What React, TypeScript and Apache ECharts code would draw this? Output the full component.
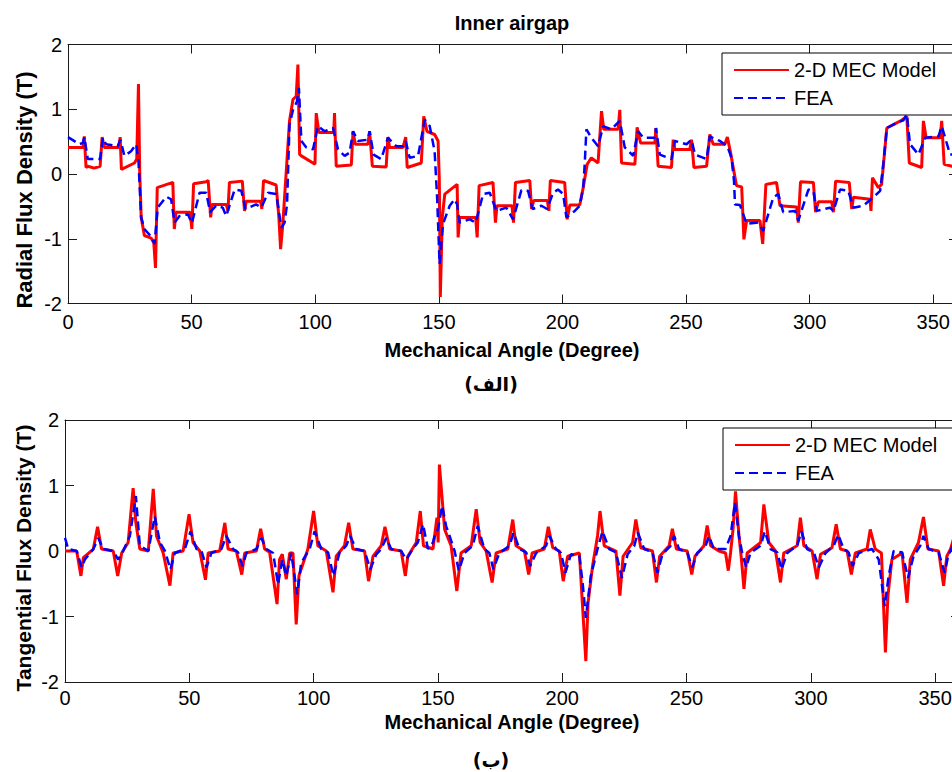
import React, { useEffect, useRef } from "react";
import * as echarts from "echarts";

const FONT = "Liberation Sans, Arial, sans-serif";

const xTicks = { min: 0, max: 360, interval: 50 };
const yTicks = { min: -2, max: 2, interval: 1 };
const seriesNames = ["2-D MEC Model", "FEA"];

// Radial flux density, 2-D MEC model: [angle (deg), B (T)]
const radialMec: number[][] = [
  [0, 0.41], [6.0, 0.41], [6.6, 0.58], [7.3, 0.1], [8.0, 0.12], [10.6, 0.09], [13.0, 0.12], [13.8, 0.57], [14.7, 0.41],
  [20.5, 0.41], [21.1, 0.57], [21.6, 0.07], [26.9, 0.17], [27.8, 0.23], [28.5, 1.39], [29.0, 0.05], [29.6, -0.67],
  [30.9, -0.95], [33.6, -0.99], [34.7, -1.06], [35.4, -1.45], [36.1, -0.21], [42.4, -0.13], [43.0, -0.85], [43.7, -0.59],
  [49.4, -0.59], [50.1, -0.85], [50.8, -0.15], [55.9, -0.12], [56.7, -0.1], [57.7, -0.67], [58.3, -0.47], [64.0, -0.47],
  [64.7, -0.57], [65.3, -0.13], [70.5, -0.11], [71.4, -0.57], [72.1, -0.42], [77.9, -0.42], [78.4, -0.54], [79.1, -0.1],
  [84.2, -0.17], [85.3, -0.67], [86.0, -1.16], [86.9, -0.77], [88.3, 0.05], [89.6, 0.82], [91.0, 1.15], [92.3, 1.2],
  [93.0, 1.69], [93.7, 0.3], [94.4, 0.28], [99.9, 0.15], [100.4, 0.94], [101.5, 0.64], [107.5, 0.64], [107.8, 0.94],
  [108.5, 0.12], [114.6, 0.14], [115.3, 0.66], [116.2, 0.46], [121.3, 0.46], [122.0, 0.66], [123.1, 0.12], [128.7, 0.11],
  [129.4, 0.57], [130.1, 0.41], [135.5, 0.41], [136.6, 0.57], [137.2, 0.1], [142.9, 0.17], [143.9, 0.89], [145.2, 0.66],
  [148.3, 0.61], [149.7, 0.51], [150.2, -0.11], [150.6, -1.9], [151.4, -0.67], [152.4, -0.31], [157.4, -0.16],
  [157.8, -0.98], [158.4, -0.67], [164.9, -0.67], [165.5, -0.98], [166.3, -0.18], [171.9, -0.13], [172.9, -0.75],
  [173.5, -0.49], [179.6, -0.49], [180.2, -0.75], [181.0, -0.13], [186.8, -0.1], [187.5, -0.54], [188.4, -0.41],
  [193.9, -0.41], [194.5, -0.57], [195.1, -0.1], [200.9, -0.13], [201.9, -0.7], [203.0, -0.48], [207.0, -0.48],
  [208.4, -0.21], [210.0, 0.15], [211.7, 0.25], [214.4, 0.17], [215.8, 0.97], [216.7, 0.69], [222.5, 0.69], [223.2, 0.99],
  [223.9, 0.17], [229.3, 0.15], [230.2, 0.72], [231.6, 0.48], [237.4, 0.48], [237.8, 0.71], [238.7, 0.12], [244.1, 0.1],
  [244.8, 0.53], [245.5, 0.38], [251.5, 0.38], [252.2, 0.53], [253.2, 0.1], [258.3, 0.12], [259.6, 0.61], [261.0, 0.46],
  [265.7, 0.46], [266.7, 0.57], [268.0, 0.33], [270.4, -0.18], [272.5, -0.2], [273.4, -1.01], [274.5, -0.72],
  [279.9, -0.72], [281.0, -1.08], [282.3, -0.16], [286.6, -0.13], [288.0, -0.49], [294.7, -0.51], [295.4, -0.75],
  [296.3, -0.12], [301.5, -0.13], [302.4, -0.59], [303.5, -0.43], [308.9, -0.43], [309.6, -0.59], [310.5, -0.11],
  [316.0, -0.13], [317.0, -0.54], [317.7, -0.36], [324.4, -0.39], [324.8, -0.57], [325.4, -0.06], [327.8, -0.21],
  [329.1, -0.16], [331.2, 0.71], [335.2, 0.79], [337.2, 0.83], [339.3, 0.89], [340.3, 0.17], [345.3, 0.1], [346.0, 0.82],
  [347.1, 0.56], [352.8, 0.56], [353.4, 0.82], [354.4, 0.15], [357.6, 0.12], [360, 0.12],
];

// Radial flux density, FEA
const radialFea: number[][] = [
  [0, 0.57], [4.6, 0.46], [6.0, 0.48], [6.6, 0.57], [8.0, 0.23], [13.0, 0.23], [14.1, 0.56], [15.4, 0.46], [20.1, 0.43],
  [21.2, 0.53], [22.8, 0.28], [25.5, 0.35], [27.6, 0.46], [28.5, 0.2], [29.6, -0.67], [30.9, -0.85], [33.0, -0.94],
  [35.0, -1.08], [36.3, -0.52], [39.7, -0.35], [41.7, -0.39], [43.1, -0.75], [45.1, -0.65], [48.5, -0.62], [50.1, -0.76],
  [53.2, -0.29], [55.9, -0.29], [57.5, -0.59], [59.9, -0.49], [62.6, -0.52], [64.0, -0.65], [67.4, -0.24], [70.1, -0.26],
  [71.8, -0.54], [76.1, -0.47], [78.2, -0.52], [80.9, -0.29], [84.2, -0.31], [86.3, -0.83], [87.6, -0.75], [88.6, -0.47],
  [89.6, 0.76], [91.0, 0.99], [92.6, 1.12], [93.4, 1.33], [94.4, 0.51], [96.4, 0.41], [99.1, 0.38], [101.1, 0.74],
  [103.8, 0.66], [107.2, 0.71], [109.2, 0.38], [111.9, 0.28], [113.9, 0.33], [115.3, 0.66], [117.3, 0.51], [121.3, 0.53],
  [122.0, 0.66], [123.6, 0.3], [126.7, 0.23], [129.4, 0.56], [132.8, 0.43], [135.5, 0.43], [136.6, 0.51], [138.2, 0.25],
  [141.6, 0.28], [144.3, 0.84], [146.3, 0.74], [148.3, 0.35], [149.3, -0.36], [150.3, -1.39], [151.7, -0.77],
  [154.4, -0.49], [156.4, -0.39], [157.4, -0.47], [158.4, -0.75], [162.5, -0.7], [164.9, -0.75], [167.9, -0.31],
  [170.6, -0.29], [173.3, -0.57], [177.3, -0.52], [180.0, -0.7], [183.4, -0.25], [186.1, -0.26], [187.9, -0.54],
  [191.5, -0.49], [193.8, -0.54], [196.2, -0.29], [198.2, -0.24], [200.3, -0.31], [201.6, -0.67], [205.0, -0.57],
  [207.0, -0.49], [208.4, -0.21], [209.0, 0.15], [209.7, 0.69], [211.7, 0.56], [214.4, 0.43], [216.5, 0.74], [219.8, 0.69],
  [223.2, 0.82], [225.2, 0.41], [228.6, 0.28], [230.6, 0.66], [232.7, 0.56], [237.4, 0.56], [237.8, 0.71], [239.4, 0.3],
  [244.1, 0.23], [245.5, 0.51], [250.2, 0.46], [252.2, 0.53], [253.6, 0.3], [258.3, 0.23], [259.6, 0.58], [263.7, 0.51],
  [266.7, 0.43], [268.4, 0.25], [269.4, -0.11], [269.8, -0.47], [271.8, -0.48], [274.5, -0.77], [279.2, -0.75],
  [281.2, -0.88], [285.3, -0.36], [287.3, -0.31], [289.3, -0.59], [294.1, -0.57], [295.4, -0.72], [299.5, -0.24],
  [301.5, -0.26], [302.8, -0.57], [308.2, -0.52], [309.6, -0.57], [312.3, -0.24], [315.6, -0.26], [317.7, -0.52],
  [321.7, -0.49], [325.8, -0.36], [328.5, -0.26], [329.8, 0.15], [331.2, 0.71], [335.2, 0.79], [337.9, 0.83], [339.3, 0.92],
  [340.6, 0.46], [344.0, 0.3], [346.7, 0.56], [352.1, 0.58], [353.4, 0.74], [356.8, 0.3], [360, 0.3],
];

// Tangential flux density, 2-D MEC model
const tangentialMec: number[][] = [
  [0, 0], [4.7, 0], [6.4, -0.38], [7.4, -0.1], [11.4, 0.03], [13.1, 0.37], [14.7, 0.03], [19.4, 0], [21.2, -0.38],
  [22.8, -0.03], [25.4, 0.13], [27.4, 0.96], [28.5, 0.43], [30.1, 0.03], [33.5, 0], [35.5, 0.95], [36.8, 0.23],
  [39.5, -0.03], [42.2, -0.53], [43.5, -0.03], [47.5, 0], [49.9, 0.56], [51.5, 0.13], [54.2, 0], [56.5, -0.44],
  [57.6, -0.03], [62.2, 0], [64.3, 0.43], [65.6, 0.03], [68.9, 0], [71.1, -0.36], [72.3, -0.03], [77.0, 0], [78.7, 0.34],
  [80.3, 0.03], [82.3, -0.02], [85.3, -0.81], [86.3, -0.13], [87.4, -0.05], [89.0, -0.43], [90.4, -0.03], [91.7, -0.03],
  [93.0, -1.12], [94.1, -0.38], [97.7, 0.03], [100.0, 0.61], [101.7, 0.08], [105.1, 0], [107.8, -0.63], [109.1, -0.08],
  [112.4, 0.08], [114.1, 0.43], [115.8, 0.03], [120.5, 0], [122.1, -0.46], [123.9, -0.08], [127.2, 0.08], [128.7, 0.37],
  [130.6, 0.03], [135.2, 0], [136.9, -0.38], [137.9, -0.08], [141.3, 0.13], [142.9, 0.61], [144.2, 0.08], [148.0, 0.03],
  [149.6, 0.51], [150.1, 0.13], [150.6, 1.32], [152.7, 0.33], [155.3, 0.08], [157.6, -0.61], [159.3, -0.03],
  [163.4, 0.08], [165.4, 0.64], [167.0, 0.13], [169.4, 0], [171.8, -0.48], [173.4, -0.03], [178.1, 0.03], [180.1, 0.48],
  [181.4, 0.08], [184.8, 0], [186.5, -0.36], [187.9, -0.03], [192.8, 0.03], [194.4, 0.37], [196.2, 0.05], [198.8, 0],
  [200.4, -0.46], [202.2, -0.08], [206.9, -0.03], [209.5, -1.68], [210.4, -0.79], [212.2, -0.23], [214.2, 0.23],
  [215.2, 0.61], [216.9, 0.08], [221.6, 0], [223.2, -0.68], [224.5, -0.08], [228.3, 0.13], [229.6, 0.48], [231.6, 0.05],
  [236.3, 0], [237.9, -0.48], [239.2, -0.08], [243.0, 0.08], [244.3, 0.34], [245.9, 0.03], [250.3, 0], [252.1, -0.36],
  [253.4, -0.08], [257.0, 0.08], [258.3, 0.39], [259.7, 0.08], [263.0, 0], [265.7, -0.03], [266.8, -0.3], [267.7, -0.03],
  [268.7, 0.33], [269.7, 0.91], [271.1, 0.23], [272.1, -0.13], [273.1, -0.58], [274.4, -0.03], [279.8, 0.13],
  [281.1, 0.71], [283.1, 0.13], [285.8, 0], [287.8, -0.48], [289.1, -0.03], [294.5, 0.08], [295.8, 0.51], [297.2, 0.08],
  [300.5, 0], [302.5, -0.43], [303.9, -0.05], [308.5, 0.05], [310.2, 0.41], [311.9, 0.03], [314.6, 0], [316.3, -0.36],
  [317.9, -0.03], [322.6, 0.03], [323.9, 0.33], [325.9, 0.03], [328.4, -0.03], [330.0, -1.55], [331.0, -0.69],
  [332.6, -0.13], [336.7, -0.03], [338.7, -0.79], [340.0, -0.13], [343.3, 0.13], [345.3, 0.52], [347.1, 0.03],
  [351.4, 0], [353.4, -0.53], [354.7, -0.08], [356.2, 0.03], [358.3, 0.3], [360, 0.05],
];

// Tangential flux density, FEA
const tangentialFea: number[][] = [
  [0, 0.2], [1.3, 0.03], [4.7, 0], [6.7, -0.25], [8.0, -0.13], [11.4, 0.03], [13.4, 0.2], [15.4, 0.03], [19.4, 0],
  [21.4, -0.13], [23.4, 0], [26.1, 0.23], [28.5, 0.84], [30.1, 0.08], [33.5, 0], [36.1, 0.53], [38.2, 0.13], [40.2, 0],
  [42.4, -0.28], [44.2, -0.03], [48.2, 0.03], [50.5, 0.3], [52.9, 0.03], [54.9, 0], [56.9, -0.25], [58.9, -0.03],
  [62.9, 0.03], [64.9, 0.23], [67.6, 0.03], [69.6, -0.02], [71.4, -0.23], [73.0, -0.03], [77.0, 0.03], [79.0, 0.2],
  [81.0, 0.03], [83.7, -0.03], [85.7, -0.51], [87.4, -0.13], [89.0, -0.38], [91.0, -0.03], [93.4, -0.66], [95.0, -0.18],
  [98.4, 0.03], [100.4, 0.3], [103.1, 0.03], [105.8, -0.02], [108.0, -0.38], [110.4, -0.03], [113.1, 0.08], [114.7, 0.23],
  [117.1, 0.03], [120.5, 0], [122.8, -0.28], [125.2, -0.05], [127.2, 0.03], [129.2, 0.2], [131.2, 0.03], [135.2, 0],
  [137.3, -0.13], [139.9, 0.03], [141.9, 0.13], [144.0, 0.41], [146.0, 0.03], [148.0, 0.13], [149.0, 0.28], [150.0, 0.33],
  [151.7, 0.69], [153.3, 0.38], [154.7, 0.23], [156.7, 0], [158.4, -0.3], [160.7, -0.03], [164.0, 0.08], [166.0, 0.38],
  [168.7, 0.03], [170.7, -0.03], [172.3, -0.28], [174.7, -0.03], [178.8, 0.08], [180.4, 0.28], [182.8, 0.03],
  [185.5, -0.02], [187.1, -0.23], [189.5, -0.03], [193.5, 0.08], [194.8, 0.23], [197.5, 0.03], [199.5, -0.03],
  [201.3, -0.33], [203.5, -0.05], [206.9, -0.08], [208.2, -0.48], [209.5, -1.02], [211.5, -0.38], [214.2, 0.03],
  [216.2, 0.3], [218.9, 0.03], [221.6, -0.02], [224.0, -0.41], [226.3, -0.05], [229.0, 0.08], [230.4, 0.28], [233.0, 0.03],
  [236.3, -0.02], [238.3, -0.33], [240.3, -0.05], [243.6, 0.08], [245.0, 0.23], [247.0, 0.03], [250.3, -0.02],
  [252.3, -0.25], [254.3, -0.03], [257.7, 0.08], [259.0, 0.23], [261.0, 0.03], [265.7, 0.03], [267.7, 0.23], [269.5, 0.74],
  [271.1, 0.23], [272.4, -0.03], [274.0, -0.25], [275.7, -0.03], [279.8, 0.08], [281.5, 0.3], [283.8, 0.03],
  [286.5, -0.02], [288.2, -0.28], [290.5, -0.03], [294.5, 0.08], [296.2, 0.3], [298.5, 0.03], [301.2, -0.02],
  [303.2, -0.25], [305.9, -0.03], [309.2, 0.08], [311.0, 0.25], [313.2, 0.03], [315.2, -0.02], [316.8, -0.23],
  [319.3, -0.03], [324.6, 0.03], [327.3, -0.13], [329.7, -0.84], [331.3, -0.38], [333.3, 0], [336.7, -0.02],
  [339.1, -0.41], [341.3, -0.08], [344.0, 0.08], [345.3, 0.23], [347.4, 0.03], [351.4, -0.02], [353.8, -0.33],
  [355.4, -0.05], [356.2, 0], [358.5, 0.22], [360, 0.1],
];

const AXIS_COLOR = "#1a1a1a";

function xAxisDef(gridIndex: number, position: "top" | "bottom", labelMargin: number) {
  return {
    gridIndex,
    type: "value",
    position,
    min: xTicks.min,
    max: xTicks.max,
    interval: xTicks.interval,
    axisLine: { show: true, onZero: false, lineStyle: { color: AXIS_COLOR, width: 1 } },
    axisTick: { show: true, inside: true, length: 9, lineStyle: { color: AXIS_COLOR, width: 1 } },
    axisLabel: {
      show: position === "bottom",
      margin: labelMargin,
      fontSize: 20,
      color: "#000",
      fontFamily: FONT,
      showMaxLabel: false,
    },
    splitLine: { show: false },
  };
}

function yAxisDef(gridIndex: number, position: "left" | "right") {
  return {
    gridIndex,
    type: "value",
    position,
    min: yTicks.min,
    max: yTicks.max,
    interval: yTicks.interval,
    axisLine: { show: true, onZero: false, lineStyle: { color: AXIS_COLOR, width: 1 } },
    axisTick: { show: true, inside: true, length: 9, lineStyle: { color: AXIS_COLOR, width: 1 } },
    axisLabel: { show: position === "left", margin: 6, fontSize: 20, color: "#000", fontFamily: FONT },
    splitLine: { show: false },
  };
}

function lineSeries(name: string, data: number[][], axisIndex: number, dashed: boolean) {
  const color = dashed ? "#0000ff" : "#ff0000";
  return {
    type: "line",
    name,
    xAxisIndex: axisIndex,
    yAxisIndex: axisIndex,
    data,
    symbol: "none",
    showSymbol: false,
    z: dashed ? 3 : 2,
    itemStyle: { color },
    lineStyle: dashed ? { color, width: 2.5, type: [9, 5] } : { color, width: 3 },
  };
}

function legendDef(left: number, top: number) {
  return {
    data: seriesNames,
    orient: "vertical",
    left,
    top,
    itemWidth: 55,
    itemHeight: 14,
    itemGap: 6,
    padding: [6, 22, 6, 11],
    borderColor: "#000",
    borderWidth: 1,
    borderRadius: 0,
    backgroundColor: "#fff",
    selectedMode: false,
    itemStyle: { opacity: 0, borderWidth: 0 },
    textStyle: { fontSize: 20, color: "#000", fontFamily: FONT, lineHeight: 22 },
  };
}

function label(text: string, x: number, y: number, size: number, opts: any = {}) {
  return {
    type: "text",
    x,
    y,
    rotation: opts.rotation || 0,
    z: 10,
    style: {
      text,
      fill: "#000",
      fontSize: size,
      fontWeight: opts.weight || "bold",
      fontFamily: opts.family || FONT,
      align: "center",
      verticalAlign: "middle",
      textAlign: "center",
      textVerticalAlign: "middle",
    },
  };
}

export default function App() {
  const ref = useRef<HTMLDivElement | null>(null);

  useEffect(() => {
    if (!ref.current) return;
    const chart = echarts.init(ref.current, null, { renderer: "svg" });
    const option: any = {
      animation: false,
      backgroundColor: "#fff",
      grid: [
        { left: 68, top: 44.5, width: 890, height: 259 },
        { left: 65, top: 420, width: 895, height: 262 },
      ],
      xAxis: [xAxisDef(0, "bottom", 8), xAxisDef(1, "bottom", 6), xAxisDef(0, "top", 8), xAxisDef(1, "top", 8)],
      yAxis: [yAxisDef(0, "left"), yAxisDef(1, "left"), yAxisDef(0, "right"), yAxisDef(1, "right")],
      legend: [legendDef(722, 53), legendDef(723, 428)],
      series: [
        lineSeries(seriesNames[0], radialMec, 0, false),
        lineSeries(seriesNames[1], radialFea, 0, true),
        lineSeries(seriesNames[0], tangentialMec, 1, false),
        lineSeries(seriesNames[1], tangentialFea, 1, true),
      ],
      graphic: [
        label("Inner airgap", 512, 23, 20),
        label("Radial Flux Density (T)", 24, 190, 22, { rotation: Math.PI / 2 }),
        label("Tangential Flux Density (T)", 23, 558, 21, { rotation: Math.PI / 2 }),
        label("Mechanical Angle (Degree)", 512, 350, 20),
        label("Mechanical Angle (Degree)", 512, 722, 20),
        label("(الف)", 491, 384, 19, { family: "DejaVu Sans" }),
        label("(ب)", 491, 760, 19, { family: "DejaVu Sans" }),
      ],
    };
    chart.setOption(option);
    return () => chart.dispose();
  }, []);

  return (
    <div
      style={{
        position: "fixed",
        left: 0,
        top: 0,
        width: 952,
        height: 772,
        overflow: "hidden",
        background: "#fff",
      }}
    >
      <div ref={ref} style={{ width: 980, height: 772 }} />
    </div>
  );
}
